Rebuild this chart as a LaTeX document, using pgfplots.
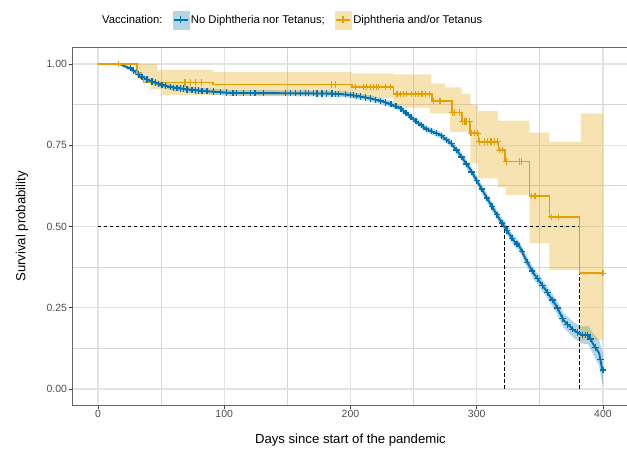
\documentclass[border=0pt]{standalone}
\usepackage{pgfplots}
\pgfplotsset{compat=1.18}
\usepgfplotslibrary{fillbetween}
\usepackage{fontspec}
\setmainfont{Liberation Sans}
\definecolor{kmblue}{HTML}{0072B2}
\definecolor{kmorange}{HTML}{E69F00}
\definecolor{gridmaj}{HTML}{E3E3E3}
\definecolor{gridmin}{HTML}{D6D6D6}
\definecolor{ticklab}{HTML}{4D4D4D}

\pgfplotstableread{
x y
0 1
31 0.972
34 0.957
36 0.943
91 0.937
201 0.930
234 0.907
264.4 0.887
280.3 0.851
288.2 0.823
294.8 0.787
301.4 0.761
317.2 0.735
322.5 0.700
341.7 0.594
357.6 0.530
381.5 0.356
400 0.356
}\orangeKM

\pgfplotstableread{
x y
0 1
47 0.982
91 0.976
201 0.971
234 0.968
264 0.940
275 0.928
288 0.907
295 0.874
301 0.856
317 0.826
342 0.789
357.6 0.761
382.5 0.848
400 0.848
}\orangeHi

\pgfplotstableread{
x y
0 1
31 0.955
41.5 0.922
51 0.905
200 0.895
234 0.866
263 0.848
279 0.790
295 0.694
301 0.648
317 0.620
323 0.597
342 0.448
357.6 0.366
382 0.150
400 0.150
}\orangeLo

\pgfplotstableread{
x y
16 1.0
69 0.943
73 0.943
77 0.943
82 0.943
185 0.937
188 0.937
203.7 0.930
210.3 0.930
213 0.930
215.6 0.930
218.2 0.930
220.9 0.930
222.2 0.930
227.5 0.930
231.5 0.930
236.8 0.907
239.4 0.907
242 0.907
244.7 0.907
248.6 0.907
251.3 0.907
253.9 0.907
256.6 0.907
259.2 0.907
262.5 0.907
266 0.887
270.3 0.887
271.6 0.887
280.9 0.851
282.3 0.851
286.2 0.851
288.9 0.823
290.2 0.823
291.5 0.823
294.2 0.823
295.5 0.787
298.2 0.787
300.8 0.787
302.1 0.761
306.1 0.761
308.7 0.761
311.4 0.761
314 0.761
316.7 0.761
318 0.735
320.6 0.735
323.3 0.700
333.8 0.700
335.5 0.700
343.6 0.594
346.2 0.594
359.4 0.530
364.7 0.530
400 0.356
}\orangeCens

\pgfplotstableread{
x y lo hi
0 1 1 1
17 1 1 1
20 0.995 0.99 1
25 0.987 0.98 0.994
29.5 0.976 0.968 0.984
33 0.965 0.956 0.974
36 0.956 0.947 0.965
40 0.950 0.941 0.959
43 0.946 0.937 0.955
47 0.940 0.931 0.949
51 0.935 0.926 0.944
60 0.927 0.918 0.936
75 0.920 0.911 0.929
90 0.915 0.906 0.924
105 0.911 0.902 0.920
150 0.910 0.901 0.919
184 0.909 0.900 0.918
200 0.905 0.896 0.914
216 0.894 0.885 0.903
226 0.884 0.875 0.893
232 0.876 0.867 0.885
239.5 0.864 0.855 0.873
250 0.830 0.820 0.840
260 0.800 0.790 0.810
271 0.782 0.772 0.792
280 0.755 0.744 0.766
287 0.720 0.708 0.732
295 0.675 0.663 0.687
303 0.622 0.609 0.635
310 0.575 0.562 0.588
318.5 0.520 0.506 0.534
322 0.500 0.486 0.514
329 0.458 0.443 0.473
334 0.438 0.423 0.453
340 0.390 0.374 0.406
345 0.356 0.340 0.372
350 0.330 0.313 0.347
355.5 0.300 0.282 0.318
363.5 0.253 0.233 0.273
368.6 0.212 0.190 0.234
376.6 0.182 0.158 0.206
383 0.166 0.140 0.192
388.4 0.166 0.138 0.194
392 0.140 0.108 0.172
397 0.110 0.070 0.150
399.5 0.058 0.015 0.115
400 0.058 0.015 0.115
}\blueKM

\pgfplotstableread{
x y
25.6 0.988
28.3 0.980
32.2 0.968
34.9 0.960
38.9 0.952
42.8 0.946
45.4 0.943
48.1 0.939
50.7 0.935
53.3 0.933
57.3 0.929
59.9 0.927
62.6 0.926
65.2 0.925
67.8 0.924
70.5 0.922
74.4 0.920
77.1 0.919
79.7 0.918
82.3 0.917
86.3 0.916
91.5 0.915
96.8 0.913
102 0.912
107 0.911
110 0.911
115.3 0.911
120.6 0.911
124.5 0.911
131.1 0.910
148.3 0.910
152.3 0.910
156.2 0.910
160.2 0.910
164.2 0.910
166.8 0.910
170.7 0.910
173.4 0.909
177.4 0.909
181.3 0.909
185.3 0.909
187.9 0.908
190.5 0.908
195.8 0.907
199.8 0.905
202.4 0.904
205 0.902
208 0.900
212 0.897
216 0.894
220 0.890
224 0.886
228 0.881
232 0.876
236 0.870
240 0.862
244 0.849
248 0.836
252 0.824
256 0.812
260 0.800
264 0.793
268 0.787
272 0.779
276 0.767
280 0.755
284 0.735
288 0.714
292 0.692
296 0.668
300 0.642
304 0.615
308 0.588
312 0.562
316 0.536
320 0.511
324 0.488
328 0.464
332 0.446
336 0.422
340 0.390
344 0.363
348 0.340
352 0.319
356 0.297
360 0.274
364 0.249
368 0.217
372 0.199
376 0.184
380 0.174
384 0.166
386 0.166
388 0.166
390 0.154
394 0.128
398 0.090
400 0.058
}\blueCens

\begin{document}
\begin{tikzpicture}
\begin{axis}[
  at={(72.7bp,45.75bp)}, anchor=south west,
  scale only axis, width=555.5bp, height=357.5bp,
  xmin=-20, xmax=420, ymin=-0.05, ymax=1.05,
  xtick={0,100,200,300,400},
  minor xtick={50,150,250,350},
  ytick={0,0.25,0.5,0.75,1},
  minor ytick={0.125,0.375,0.625,0.875},
  yticklabels={0.00,0.25,0.50,0.75,1.00},
  grid=both,
  major grid style={color=gridmaj, line width=1.3bp},
  minor grid style={color=gridmin, line width=0.75bp},
  axis line style={color=black!60, line width=0.6bp},
  tick align=outside, major tick length=3.4bp, minor tick length=0pt,
  xtick pos=bottom, ytick pos=left,
  tick style={color=black!75, line width=0.6bp},
  /pgf/number format/assume math mode=true,
  ticklabel style={font=\fontsize{10.5}{12}\selectfont, text=ticklab},
  xticklabel style={inner sep=1.5bp},
  yticklabel style={inner sep=2.2bp},
  xlabel={Days since start of the pandemic},
  ylabel={Survival probability},
  label style={font=\fontsize{13.2}{15}\selectfont},
  xlabel style={at={(axis description cs:0.5,-0.0972)}, anchor=center},
  ylabel style={at={(axis description cs:-0.0913,0.5)}, anchor=center},
  legend columns=3,
  legend style={draw=none, fill=none, at={(0.395,1.078)}, anchor=center,
    font=\fontsize{11.3}{13}\selectfont, inner sep=0pt,
    /tikz/every even column/.append style={column sep=8bp}},
  clip=true,
]
% blue band
\addplot[draw=none, name path=blo, forget plot] table[x=x,y=lo] {\blueKM};
\addplot[draw=none, name path=bhi, forget plot] table[x=x,y=hi] {\blueKM};
\addplot[fill=kmblue, fill opacity=0.3, draw=none, forget plot] fill between[of=blo and bhi];
% orange band
\addplot[draw=none, const plot, name path=olo, forget plot] table {\orangeLo};
\addplot[draw=none, const plot, name path=ohi, forget plot] table {\orangeHi};
\addplot[fill=kmorange, fill opacity=0.3, draw=none, forget plot] fill between[of=olo and ohi];
% median lines
\addplot[black, dash pattern=on 3.5bp off 2.5bp, line width=0.7bp, forget plot] coordinates {(0,0.5) (381.5,0.5)};
\addplot[black, dash pattern=on 3.5bp off 2.5bp, line width=0.7bp, forget plot] coordinates {(322,0) (322,0.5)};
\addplot[black, dash pattern=on 3.5bp off 2.5bp, line width=0.7bp, forget plot] coordinates {(381.5,0) (381.5,0.5)};
% curves
\addplot[kmblue, line width=1.9bp, mark=none, forget plot] table[x=x,y=y] {\blueKM};
\addplot[kmblue, only marks, mark=+, mark size=3.2bp, mark options={line width=1.3bp}, forget plot] table {\blueCens};
\addplot[kmorange, const plot, line width=1.7bp, mark=none, forget plot] table {\orangeKM};
\addplot[kmorange, only marks, mark=+, mark size=3.2bp, mark options={line width=1.2bp}, forget plot] table {\orangeCens};
% legend
\addlegendimage{empty legend}
\addlegendentry{Vaccination:}
\addlegendimage{legend image code/.code={
  \fill[kmblue!30] (0bp,-9bp) rectangle (16bp,9bp);
  \draw[kmblue, line width=1.6bp] (1bp,0bp)--(15bp,0bp);
  \draw[kmblue, line width=1.2bp] (8bp,-3.5bp)--(8bp,3.5bp);}}
\addlegendentry{No Diphtheria nor Tetanus;}
\addlegendimage{legend image code/.code={
  \fill[kmorange!30] (0bp,-9bp) rectangle (16bp,9bp);
  \draw[kmorange, line width=1.6bp] (1bp,0bp)--(15bp,0bp);
  \draw[kmorange, line width=1.2bp] (8bp,-3.5bp)--(8bp,3.5bp);}}
\addlegendentry{Diphtheria and/or Tetanus}
\end{axis}
\pgfresetboundingbox
\useasboundingbox (0,0) rectangle (627bp,451bp);
\end{tikzpicture}
\end{document}
